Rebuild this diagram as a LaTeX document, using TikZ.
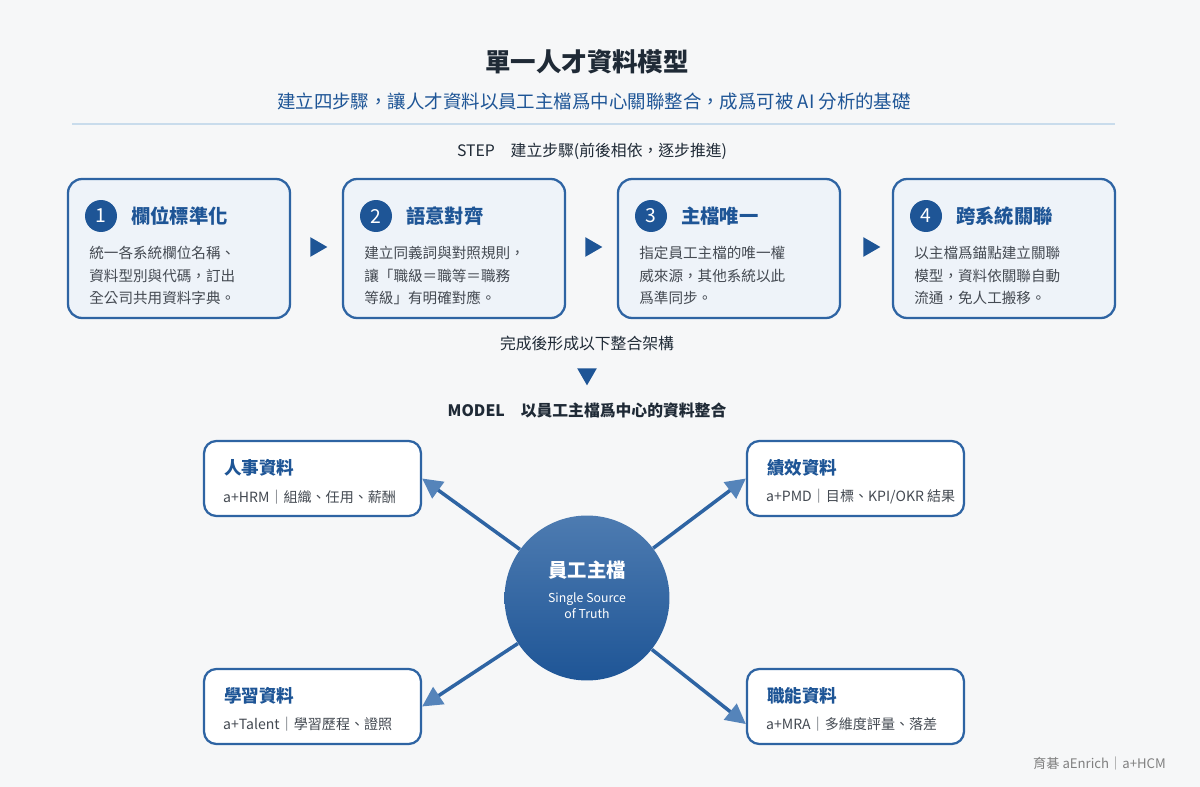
\documentclass[tikz,border=0pt]{standalone}
\usepackage{fontspec}
\setmainfont{Noto Sans CJK TC}
\usetikzlibrary{shapes.geometric,arrows.meta,positioning}
\begin{document}
\begin{tikzpicture}[x=0.02cm,y=-0.02cm]
%
\definecolor{cbg}{HTML}{F6F7F8}
\definecolor{cdark}{HTML}{1F2A36}
\definecolor{cblue}{HTML}{1E5596}
\definecolor{cline}{HTML}{2E64A3}
\definecolor{cfstep}{HTML}{EEF3F9}
\definecolor{ctext}{HTML}{444A52}
\definecolor{carrow}{HTML}{5584BA}
\definecolor{crule}{HTML}{C9DCEC}
\tikzset{
  num/.style={circle,fill=cblue,text=white,minimum size=0.64cm,inner sep=0pt,font=\fontsize{11}{11}\selectfont},
  stitle/.style={text=cblue,font=\fontsize{11}{12}\selectfont\bfseries,anchor=west},
  sbody/.style={text=ctext,font=\fontsize{8.3}{12.8}\selectfont,align=left,anchor=north west,inner sep=0pt},
  tri/.style={isosceles triangle,fill=cblue,inner sep=0pt,minimum height=0.34cm,minimum width=0.3cm,isosceles triangle apex angle=60},
  data/.style={draw=cline,line width=1.3pt,fill=white,rounded corners=7pt,minimum width=4.34cm,minimum height=1.5cm},
  dtitle/.style={text=cblue,font=\fontsize{10}{12}\selectfont\bfseries,anchor=west},
  dbody/.style={text=ctext,font=\fontsize{8}{10}\selectfont,anchor=west},
  link/.style={draw=cline,line width=2pt,-{Triangle[length=0.4cm,width=0.4cm,color=carrow]}},
}
%
\useasboundingbox (0,0) rectangle (1200,787);
\fill[cbg] (0,0) rectangle (1200,787);
%
\node[text=cdark,font=\fontsize{14.5}{15}\selectfont\bfseries] (title) at (587,62) {單一人才資料模型};
\node[text=cblue,font=\fontsize{10.5}{12}\selectfont] (sub) at (594,101) {建立四步驟，讓人才資料以員工主檔爲中心關聯整合，成爲可被 AI 分析的基礎};
\draw[crule,line width=1.5pt] (72,124) -- (1115,124);
\node[text=cdark,font=\fontsize{9}{10}\selectfont] (steplbl) at (592,151) {STEP\quad 建立步驟(前後相依，逐步推進)};
%
\foreach \i/\x/\t/\a/\b/\c in {
  1/68/欄位標準化/統一各系統欄位名稱、/資料型別與代碼，訂出/全公司共用資料字典。,
  2/343/語意對齊/建立同義詞與對照規則，/讓「職級＝職等＝職務/等級」有明確對應。,
  3/618/主檔唯一/指定員工主檔的唯一權/威來源，其他系統以此/爲準同步。,
  4/893/跨系統關聯/以主檔爲錨點建立關聯/模型，資料依關聯自動/流通，免人工搬移。}{
  \draw[draw=cline,line width=1.3pt,fill=cfstep,rounded corners=8pt] (\x,179) rectangle ++(222,139);
  \node[num] (n\i) at (\x+33,216) {\i};
  \node[stitle] (t\i) at (\x+57,216) {\t};
  \node[sbody] (b\i) at (\x+21,246) {\a\\\b\\\c};
}
\foreach \x in {316,591,869}
  \node[tri] at (\x,247) {};
%
\node[text=cdark,font=\fontsize{9}{10}\selectfont] (done) at (587,343) {完成後形成以下整合架構};
\node[tri,shape border rotate=-90] (down) at (587,374) {};
\node[text=cdark,font=\fontsize{9}{10}\selectfont\bfseries] (modellbl) at (587,410) {MODEL\quad 以員工主檔爲中心的資料整合};
%
\node[data] (hrm) at (312.5,478.5) {};
\node[data] (pmd) at (855.5,478.5) {};
\node[data] (tal) at (312.5,706.5) {};
\node[data] (mra) at (855.5,706.5) {};
\node[dtitle] at (218,468) {人事資料};
\node[dbody] at (217,497) {a+HRM｜組織、任用、薪酬};
\node[dtitle] at (761,468) {績效資料};
\node[dbody] at (760,497) {a+PMD｜目標、KPI/OKR 結果};
\node[dtitle] at (218,696) {學習資料};
\node[dbody] at (217,724) {a+Talent｜學習歷程、證照};
\node[dtitle] at (761,696) {職能資料};
\node[dbody] at (760,724) {a+MRA｜多維度評量、落差};
%
\node[circle,minimum size=3.3cm,top color=cline!85!white,bottom color=cblue,inner sep=0pt] (hub) at (587,598) {};
\node[text=white,font=\fontsize{11}{12}\selectfont\bfseries] at (587,570) {員工主檔};
\node[text=white,font=\fontsize{7}{9}\selectfont,align=center] at (587,606) {Single Source\\of Truth};
%
\draw[link] (hub) -- (hrm.east);
\draw[link] (hub) -- (pmd.west);
\draw[link] (hub) -- (tal.east);
\draw[link] (hub) -- ([yshift=-10]mra.west);
%
\node[text=gray,font=\fontsize{7.5}{9}\selectfont,anchor=east] (foot) at (1172,763) {育碁 aEnrich｜a+HCM};
\end{tikzpicture}
\end{document}
